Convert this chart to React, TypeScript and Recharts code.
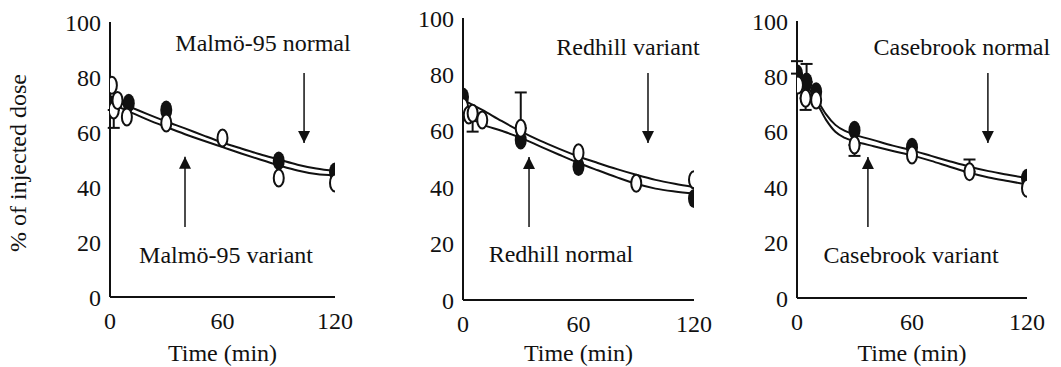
import {
  ComposedChart,
  Line,
  Scatter,
  XAxis,
  YAxis,
  ErrorBar,
  ReferenceLine,
  ReferenceDot,
} from 'recharts'

type Err = [number, number] | null

// fitted curve sample times (min)
const fitTimes = [0, 10, 20, 30, 40, 50, 60, 70, 80, 90, 100, 110, 120]
const caseFitTimes = [0, 5, 10, 15, 20, 25, 30, 40, 50, 60, 70, 80, 90, 100, 110, 120]

// Malmö-95
const malmoNormalTimes = [0, 10, 30, 90, 120]
const malmoNormalValues = [70, 70.5, 68, 49.5, 45.5]
const malmoVariantTimes = [1, 2, 4, 9, 30, 60, 90, 120]
const malmoVariantValues = [77, 68, 71.5, 65.5, 63.3, 57.8, 43.3, 41.5]
const malmoVariantErrors: Err[] = [null, [6.5, 0], null, null, null, null, null, null]
const malmoNormalFit = [72, 69.3, 66.5, 63.8, 61.3, 58.7, 56.2, 54, 51.9, 50, 48.1, 46.7, 45.8]
const malmoVariantFit = [70.5, 67.5, 64.5, 61.8, 59.2, 56.8, 54.5, 52.2, 50, 47.9, 46, 44.7, 44.2]

// Redhill
const redhillNormalTimes = [0, 30, 60, 120]
const redhillNormalValues = [72, 56.7, 47.3, 36]
const redhillVariantTimes = [0, 3, 5, 10, 30, 60, 90, 120]
const redhillVariantValues = [68.5, 65.6, 66.2, 63.8, 60.9, 52.2, 41.4, 42.6]
const redhillVariantErrors: Err[] = [null, null, [6.5, 0], null, [0, 12.7], null, null, null]
const redhillNormalFit = [66, 62.3, 60, 57.5, 54.5, 51.5, 48.6, 46, 43.5, 41.2, 39.5, 38.5, 37.8]
const redhillVariantFit = [71, 67.4, 63.5, 59.8, 56.5, 53.6, 50.9, 48.6, 46.4, 44.4, 42.6, 41.2, 40]

// Casebrook
const caseNormalTimes = [0, 5, 10, 30, 60, 120]
const caseNormalValues = [81, 78, 74.5, 60.6, 54.4, 43.2]
const caseNormalErrors: Err[] = [[0, 4.5], [0, 6.5], null, null, null, null]
const caseVariantTimes = [0.5, 4.5, 10, 30, 60, 90, 120]
const caseVariantValues = [76.9, 72.1, 71.5, 55.2, 51.6, 45.6, 39.6]
const caseVariantErrors: Err[] = [null, [4.2, 0], null, [3.9, 0], null, [0, 4.4], null]
const caseNormalFit = [80, 76.5, 72, 66.5, 62.5, 60.3, 59, 57, 55, 53.3, 51.3, 49.3, 47.4, 45.8, 44.5, 43.3]
const caseVariantFit = [76, 73, 70.5, 64.5, 60, 57.8, 56.6, 54.8, 53.1, 51.5, 49.5, 47.3, 45.2, 43.5, 42.2, 41]

const xTicks = [0, 60, 120]
const yTicks = [0, 20, 40, 60, 80, 100]

const FONT = "'Liberation Serif', 'Times New Roman', serif"
const INK = '#111'

const toPoints = (times: number[], values: number[], errors?: Err[]) =>
  times.map((t, i) => ({ t, v: values[i], err: errors ? errors[i] ?? undefined : undefined }))

interface Note {
  text: string
  x: number
  y: number
}

interface Arrow {
  x: number
  from: number
  tip: number
  dir: 'down' | 'up'
}

interface PanelProps {
  left: number
  width: number
  top: number
  bottom: number
  yAxisWidth: number
  rightMargin: number
  normal: { t: number; v: number; err?: Err }[]
  variant: { t: number; v: number; err?: Err }[]
  normalFit: { t: number; v: number }[]
  variantFit: { t: number; v: number }[]
  notes: Note[]
  arrows: Arrow[]
}

const filledDot = (p: any) => (
  <ellipse cx={p.cx} cy={p.cy} rx={6} ry={9.5} fill={INK} />
)

const openDot = (p: any) => (
  <ellipse cx={p.cx} cy={p.cy} rx={5} ry={8.5} fill="#fff" stroke={INK} strokeWidth={2} />
)

function Panel({
  left,
  width,
  top,
  bottom,
  yAxisWidth,
  rightMargin,
  normal,
  variant,
  normalFit,
  variantFit,
  notes,
  arrows,
}: PanelProps) {
  const height = 367
  return (
    <div style={{ position: 'absolute', left, top: 0 }}>
      <ComposedChart
        width={width}
        height={height}
        margin={{ top, right: rightMargin, bottom: 0, left: 0 }}
      >
        <XAxis
          dataKey="t"
          type="number"
          domain={[0, 120]}
          ticks={xTicks}
          allowDataOverflow
          height={height - bottom}
          axisLine={{ stroke: INK, strokeWidth: 2 }}
          tickLine={false}
          tickSize={0}
          tickMargin={15}
          tick={{ fontSize: 24, fill: INK, fontFamily: FONT }}
          label={{
            value: 'Time (min)',
            position: 'insideBottom',
            offset: 6,
            fontSize: 24,
            fill: INK,
            fontFamily: FONT,
          }}
        />
        <YAxis
          type="number"
          domain={[0, 100]}
          ticks={yTicks}
          width={yAxisWidth}
          axisLine={{ stroke: INK, strokeWidth: 2 }}
          tickLine={false}
          tickSize={0}
          tickMargin={9}
          tick={{ fontSize: 24, fill: INK, fontFamily: FONT }}
        />

        {/* fitted curves */}
        <Line
          data={normalFit}
          dataKey="v"
          type="monotone"
          stroke={INK}
          strokeWidth={2}
          dot={false}
          activeDot={false}
          isAnimationActive={false}
        />
        <Line
          data={variantFit}
          dataKey="v"
          type="monotone"
          stroke={INK}
          strokeWidth={2}
          dot={false}
          activeDot={false}
          isAnimationActive={false}
        />

        {/* measured points */}
        <Scatter data={normal} dataKey="v" shape={filledDot} isAnimationActive={false}>
          <ErrorBar dataKey="err" direction="y" width={6} stroke={INK} strokeWidth={2} />
        </Scatter>
        <Scatter data={variant} dataKey="v" shape={openDot} isAnimationActive={false}>
          <ErrorBar dataKey="err" direction="y" width={6} stroke={INK} strokeWidth={2} />
        </Scatter>

        {/* annotation arrows */}
        {arrows.map((a, i) => (
          <ReferenceLine
            key={`al${i}`}
            segment={[
              { x: a.x, y: a.from },
              { x: a.x, y: a.tip },
            ]}
            stroke={INK}
            strokeWidth={1.5}
          />
        ))}
        {arrows.map((a, i) => (
          <ReferenceDot
            key={`ah${i}`}
            x={a.x}
            y={a.tip}
            r={1}
            shape={(p: any) => {
              const s = a.dir === 'down' ? -1 : 1
              return (
                <polygon
                  points={`${p.cx - 6},${p.cy + s * 12} ${p.cx + 6},${p.cy + s * 12} ${p.cx},${p.cy}`}
                  fill={INK}
                />
              )
            }}
          />
        ))}
        {notes.map((n, i) => (
          <ReferenceDot
            key={`n${i}`}
            x={n.x}
            y={n.y}
            r={1}
            shape={(p: any) => (
              <text
                x={p.cx}
                y={p.cy}
                dy="0.35em"
                textAnchor="middle"
                fontSize={24}
                fontFamily={FONT}
                fill={INK}
              >
                {n.text}
              </text>
            )}
          />
        ))}
      </ComposedChart>
    </div>
  )
}

export default function App() {
  const fit = (times: number[], values: number[]) => toPoints(times, values)
  return (
    <div
      style={{
        position: 'absolute',
        left: 0,
        top: 0,
        width: 1061,
        height: 367,
        background: '#fff',
        fontFamily: FONT,
        overflow: 'hidden',
      }}
    >
      <div
        style={{
          position: 'absolute',
          left: 18,
          top: 163,
          transform: 'translate(-50%, -50%) rotate(-90deg)',
          whiteSpace: 'nowrap',
          fontSize: 24,
          color: INK,
        }}
      >
        % of injected dose
      </div>

      <Panel
        left={0}
        width={360}
        top={22}
        bottom={297}
        yAxisWidth={110}
        rightMargin={25}
        normal={toPoints(malmoNormalTimes, malmoNormalValues)}
        variant={toPoints(malmoVariantTimes, malmoVariantValues, malmoVariantErrors)}
        normalFit={fit(fitTimes, malmoNormalFit)}
        variantFit={fit(fitTimes, malmoVariantFit)}
        notes={[
          { text: 'Malmö-95 normal', x: 81.6, y: 92.4 },
          { text: 'Malmö-95 variant', x: 61.9, y: 15.3 },
        ]}
        arrows={[
          { x: 103.5, from: 81.5, tip: 56, dir: 'down' },
          { x: 40, from: 25.5, tip: 51, dir: 'up' },
        ]}
      />
      <Panel
        left={360}
        width={355}
        top={18}
        bottom={300}
        yAxisWidth={103}
        rightMargin={21}
        normal={toPoints(redhillNormalTimes, redhillNormalValues)}
        variant={toPoints(redhillVariantTimes, redhillVariantValues, redhillVariantErrors)}
        normalFit={fit(fitTimes, redhillNormalFit)}
        variantFit={fit(fitTimes, redhillVariantFit)}
        notes={[
          { text: 'Redhill variant', x: 85.7, y: 89.7 },
          { text: 'Redhill normal', x: 50.9, y: 16.3 },
        ]}
        arrows={[
          { x: 96.1, from: 80.5, tip: 55.7, dir: 'down' },
          { x: 34.3, from: 25.9, tip: 50.7, dir: 'up' },
        ]}
      />
      <Panel
        left={715}
        width={346}
        top={21}
        bottom={298}
        yAxisWidth={82}
        rightMargin={34}
        normal={toPoints(caseNormalTimes, caseNormalValues, caseNormalErrors)}
        variant={toPoints(caseVariantTimes, caseVariantValues, caseVariantErrors)}
        normalFit={fit(caseFitTimes, caseNormalFit)}
        variantFit={fit(caseFitTimes, caseVariantFit)}
        notes={[
          { text: 'Casebrook normal', x: 86, y: 90.6 },
          { text: 'Casebrook variant', x: 59.5, y: 15.5 },
        ]}
        arrows={[
          { x: 99.6, from: 81.2, tip: 56, dir: 'down' },
          { x: 37, from: 25.6, tip: 50.9, dir: 'up' },
        ]}
      />
    </div>
  )
}
